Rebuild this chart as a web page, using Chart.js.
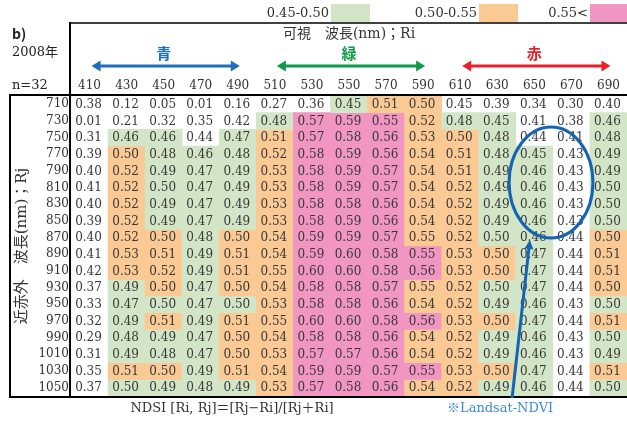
<!DOCTYPE html>
<html><head><meta charset="utf-8">
<script src="https://cdn.jsdelivr.net/npm/chart.js@4.4.0/dist/chart.umd.min.js"></script>
<style>html,body{margin:0;padding:0;background:#fff;overflow:hidden}canvas{display:block}</style>
</head><body>
<canvas id="c" width="627" height="421"></canvas>
<script>
// ---- data ----
const visibleNm = ['410','430','450','470','490','510','530','550','570','590','610','630','650','670','690'];
const nirNm = ['710','730','750','770','790','810','830','850','870','890','910','930','950','970','990','1010','1030','1050'];

const ndsi710  = [0.38,0.12,0.05,0.01,0.16,0.27,0.36,0.45,0.51,0.50,0.45,0.39,0.34,0.30,0.40];
const ndsi730  = [0.01,0.21,0.32,0.35,0.42,0.48,0.57,0.59,0.55,0.52,0.48,0.45,0.41,0.38,0.46];
const ndsi750  = [0.31,0.46,0.46,0.44,0.47,0.51,0.57,0.58,0.56,0.53,0.50,0.48,0.44,0.41,0.48];
const ndsi770  = [0.39,0.50,0.48,0.46,0.48,0.52,0.58,0.59,0.56,0.54,0.51,0.48,0.45,0.43,0.49];
const ndsi790  = [0.40,0.52,0.49,0.47,0.49,0.53,0.58,0.59,0.57,0.54,0.51,0.49,0.46,0.43,0.49];
const ndsi810  = [0.41,0.52,0.50,0.47,0.49,0.53,0.58,0.59,0.57,0.54,0.52,0.49,0.46,0.43,0.50];
const ndsi830  = [0.40,0.52,0.49,0.47,0.49,0.53,0.58,0.58,0.56,0.54,0.52,0.49,0.46,0.43,0.50];
const ndsi850  = [0.39,0.52,0.49,0.47,0.49,0.53,0.58,0.59,0.56,0.54,0.52,0.49,0.46,0.43,0.50];
const ndsi870  = [0.40,0.52,0.50,0.48,0.50,0.54,0.59,0.59,0.57,0.55,0.52,0.50,0.46,0.44,0.50];
const ndsi890  = [0.41,0.53,0.51,0.49,0.51,0.54,0.59,0.60,0.58,0.55,0.53,0.50,0.47,0.44,0.51];
const ndsi910  = [0.42,0.53,0.52,0.49,0.51,0.55,0.60,0.60,0.58,0.56,0.53,0.50,0.47,0.44,0.51];
const ndsi930  = [0.37,0.49,0.50,0.47,0.50,0.54,0.58,0.58,0.57,0.55,0.52,0.50,0.47,0.44,0.50];
const ndsi950  = [0.33,0.47,0.50,0.47,0.50,0.53,0.58,0.58,0.56,0.54,0.52,0.49,0.46,0.43,0.50];
const ndsi970  = [0.32,0.49,0.51,0.49,0.51,0.55,0.60,0.60,0.58,0.56,0.53,0.50,0.47,0.44,0.51];
const ndsi990  = [0.29,0.48,0.49,0.47,0.50,0.54,0.58,0.58,0.56,0.54,0.52,0.49,0.46,0.43,0.50];
const ndsi1010 = [0.31,0.49,0.48,0.47,0.50,0.53,0.57,0.57,0.56,0.54,0.52,0.49,0.46,0.43,0.49];
const ndsi1030 = [0.35,0.51,0.50,0.49,0.51,0.54,0.59,0.59,0.57,0.55,0.53,0.50,0.47,0.44,0.51];
const ndsi1050 = [0.37,0.50,0.49,0.48,0.49,0.53,0.57,0.58,0.56,0.54,0.52,0.49,0.46,0.44,0.50];

// colour band of each cell as shown (0 none, 1 = 0.45-0.50, 2 = 0.50-0.55, 3 = 0.55<)
const band710  = [0,0,0,0,0,0,0,1,2,2,0,0,0,0,0];
const band730  = [0,0,0,0,0,1,3,3,3,2,1,1,0,0,1];
const band750  = [0,1,1,0,1,2,3,3,3,2,2,1,0,0,1];
const band770  = [0,2,1,1,1,2,3,3,3,2,2,1,1,0,1];
const band790  = [0,2,1,1,1,2,3,3,3,2,2,1,1,0,1];
const band810  = [0,2,1,1,1,2,3,3,3,2,2,1,1,0,1];
const band830  = [0,2,1,1,1,2,3,3,3,2,2,1,1,0,1];
const band850  = [0,2,1,1,1,2,3,3,3,2,2,1,1,0,1];
const band870  = [0,2,2,1,2,2,3,3,3,2,2,1,1,0,2];
const band890  = [0,2,2,1,2,2,3,3,3,3,2,2,1,0,2];
const band910  = [0,2,2,1,2,2,3,3,3,3,2,2,1,0,2];
const band930  = [0,1,2,1,2,2,3,3,3,2,2,1,1,0,2];
const band950  = [0,1,1,1,1,2,3,3,3,2,2,1,1,0,1];
const band970  = [0,1,2,1,2,2,3,3,3,3,2,2,1,0,2];
const band990  = [0,1,1,1,2,2,3,3,3,2,2,1,1,0,1];
const band1010 = [0,1,1,1,2,2,3,3,3,2,2,1,1,0,1];
const band1030 = [0,2,2,1,2,2,3,3,3,3,2,2,1,0,2];
const band1050 = [0,1,1,1,1,2,3,3,3,2,2,1,1,0,1];

const bandLabels = ['0.45-0.50','0.50-0.55','0.55<'];

const ndsiRows = [ndsi710,ndsi730,ndsi750,ndsi770,ndsi790,ndsi810,ndsi830,ndsi850,ndsi870,ndsi890,ndsi910,ndsi930,ndsi950,ndsi970,ndsi990,ndsi1010,ndsi1030,ndsi1050];
const bandRows = [band710,band730,band750,band770,band790,band810,band830,band850,band870,band890,band910,band930,band950,band970,band990,band1010,band1030,band1050];

// ---- styles ----
const bandColors = ['rgba(255,255,255,0)','#d3e5c7','#fac994','#f195c2'];
const SERIF = '"DejaVu Serif","Noto Sans CJK JP",serif';
const CJK = '"DejaVu Serif","Noto Sans CJK JP",sans-serif';

const datasets = nirNm.map((nir, r) => ({
  label: nir,
  data: visibleNm.map(() => 1),
  ndsi: ndsiRows[r],
  backgroundColor: bandRows[r].map(b => bandColors[b]),
  borderWidth: 0,
  barPercentage: 1,
  categoryPercentage: 1,
  stack: 'cells',
  yAxisID: 'y'
}));

function line(ctx, x1, y1, x2, y2) { ctx.beginPath(); ctx.moveTo(x1, y1); ctx.lineTo(x2, y2); ctx.stroke(); }
function dblArrow(ctx, x1, x2, y, color) {
  const h = 9, w = 5.5;
  ctx.strokeStyle = color; ctx.fillStyle = color; ctx.lineWidth = 3;
  line(ctx, x1 + h - 1, y, x2 - h + 1, y);
  ctx.beginPath(); ctx.moveTo(x1, y); ctx.lineTo(x1 + h, y - w); ctx.lineTo(x1 + h, y + w); ctx.closePath(); ctx.fill();
  ctx.beginPath(); ctx.moveTo(x2, y); ctx.lineTo(x2 - h, y - w); ctx.lineTo(x2 - h, y + w); ctx.closePath(); ctx.fill();
}

const decor = {
  id: 'decor',
  beforeDraw(chart) {
    const c = chart.ctx; c.save(); c.fillStyle = '#fff'; c.fillRect(0, 0, chart.width, chart.height); c.restore();
  },
  afterDatasetsDraw(chart) {
    const ctx = chart.ctx;
    ctx.save();
    ctx.font = '12px ' + SERIF;
    ctx.fillStyle = '#383838';
    ctx.textAlign = 'center';
    ctx.textBaseline = 'middle';
    chart.data.datasets.forEach((ds, i) => {
      const meta = chart.getDatasetMeta(i);
      meta.data.forEach((el, j) => {
        const p = el.getProps(['x', 'y', 'base'], true);
        ctx.fillText(ds.ndsi[j].toFixed(2), p.x - 1, (p.y + p.base) / 2 + 0.5);
      });
    });
    ctx.restore();
  },
  afterDraw(chart) {
    const ctx = chart.ctx, a = chart.chartArea, W = chart.width;
    const xs = chart.scales.x, ys = chart.scales.y;
    const cw = a.width / visibleNm.length;
    const colX = c => a.left + c * cw;          // fractional column position
    const rowY = r => ys.getPixelForValue(r);    // fractional row position
    ctx.save();

    // frame lines
    ctx.strokeStyle = '#000';
    ctx.lineWidth = 2;
    line(ctx, 9, a.top - 1, W, a.top - 1);
    line(ctx, 10, a.top - 1, 10, a.bottom + 1);
    line(ctx, 9, a.bottom + 1, W, a.bottom + 1);
    line(ctx, a.left - 1, 22, a.left - 1, a.bottom + 2);
    ctx.lineWidth = 1.5;
    line(ctx, a.left - 2, 23, W, 23);

    // legend
    ctx.font = '13px ' + SERIF;
    ctx.textBaseline = 'middle';
    ctx.textAlign = 'right';
    ctx.fillStyle = '#333';
    const legendBoxes = [[331, 370], [479, 518], [590, 628]];
    bandLabels.forEach((lab, k) => {
      const [bx1, bx2] = legendBoxes[k];
      ctx.fillStyle = bandColors[k + 1];
      ctx.fillRect(bx1, 4, bx2 - bx1, 18);
      ctx.fillStyle = '#333';
      ctx.fillText(lab, bx1 - 2, 14);
    });

    // top-left notes
    ctx.textAlign = 'left';
    ctx.fillStyle = '#222';
    ctx.font = 'bold 14px "Noto Sans CJK JP",sans-serif';
    ctx.fillText('b)', 12, 34);
    ctx.font = '13px ' + CJK;
    ctx.fillText('2008年', 12, 53);
    ctx.fillText('n=32', 12, 86);

    // visible header
    ctx.textAlign = 'center';
    ctx.font = '14px ' + CJK;
    ctx.fillStyle = '#333';
    ctx.fillText('可視　波長(nm)；Ri', colX(7.5), 34);

    // colour groups
    const groups = [
      { name: '青', from: 0, to: 4, color: '#1e6ebe' },
      { name: '緑', from: 5, to: 9, color: '#0e9a48' },
      { name: '赤', from: 10, to: 14, color: '#e62129' }
    ];
    groups.forEach(g => {
      const x1 = xs.getPixelForValue(g.from), x2 = xs.getPixelForValue(g.to);
      ctx.font = 'bold 15px "Noto Sans CJK JP",sans-serif';
      ctx.fillStyle = g.color;
      ctx.fillText(g.name, (x1 + x2) / 2, 53);
      dblArrow(ctx, x1 + 2, x2 + 2, 66, g.color);
    });

    // vertical axis title
    ctx.save();
    ctx.translate(22, (a.top + a.bottom) / 2);
    ctx.rotate(-Math.PI / 2);
    ctx.font = '15px ' + CJK;
    ctx.fillStyle = '#333';
    ctx.textAlign = 'center';
    ctx.fillText('近赤外　波長(nm)；Rj', 0, 0);
    ctx.restore();

    // formula & note
    ctx.font = '13px ' + CJK;
    ctx.fillStyle = '#333';
    ctx.textAlign = 'center';
    ctx.fillText('NDSI [Ri, Rj]＝[Rj−Ri]/[Rj＋Ri]', 232, 409);
    ctx.fillStyle = '#3d8bd8';
    ctx.textAlign = 'left';
    ctx.fillText('※Landsat-NDVI', 447, 409);

    // ellipse annotation (Landsat NDVI)
    ctx.strokeStyle = '#1464b4';
    ctx.fillStyle = '#1464b4';
    ctx.lineWidth = 3;
    const cx = colX(12.95), cy = rowY(5.19);
    const rx = 1.13 * cw, ry = Math.abs(rowY(3.33) - rowY(0));
    ctx.beginPath(); ctx.ellipse(cx, cy, rx, ry, 0, 0, Math.PI * 2); ctx.stroke();
    // pointer arrow
    const tx = colX(12.38), ty = rowY(8.64);
    const bx = colX(11.9), by = a.bottom + 2;
    const ang = Math.atan2(ty - by, tx - bx);
    const hl = 9, hw = 4.5;
    line(ctx, bx, by, tx - Math.cos(ang) * (hl - 1), ty - Math.sin(ang) * (hl - 1));
    ctx.beginPath();
    ctx.moveTo(tx, ty);
    ctx.lineTo(tx - Math.cos(ang) * hl + Math.sin(ang) * hw, ty - Math.sin(ang) * hl - Math.cos(ang) * hw);
    ctx.lineTo(tx - Math.cos(ang) * hl - Math.sin(ang) * hw, ty - Math.sin(ang) * hl + Math.cos(ang) * hw);
    ctx.closePath(); ctx.fill();

    ctx.restore();
  }
};

new Chart(document.getElementById('c'), {
  type: 'bar',
  data: { labels: visibleNm, datasets },
  options: {
    responsive: false,
    animation: false,
    devicePixelRatio: 1,
    layout: { padding: { left: 31, right: 0, top: 79, bottom: 25 } },
    plugins: { legend: { display: false }, tooltip: { enabled: false }, title: { display: false } },
    scales: {
      x: {
        type: 'category', position: 'top', stacked: true,
        grid: { display: false, drawTicks: false }, border: { display: false },
        ticks: { font: { family: 'DejaVu Serif', size: 12 }, color: '#333', padding: 3, maxRotation: 0, autoSkip: false },
        afterFit: s => { s.height = 17; }
      },
      y: { type: 'linear', stacked: true, min: 0, max: nirNm.length, reverse: true, display: false },
      yl: {
        type: 'category', labels: nirNm, position: 'left', offset: true,
        grid: { display: false, drawTicks: false }, border: { display: false },
        ticks: { font: { family: 'DejaVu Serif', size: 12 }, color: '#333', padding: 2, autoSkip: false },
        afterFit: s => { s.width = 40; }
      }
    }
  },
  plugins: [decor]
});
</script>
</body></html>
